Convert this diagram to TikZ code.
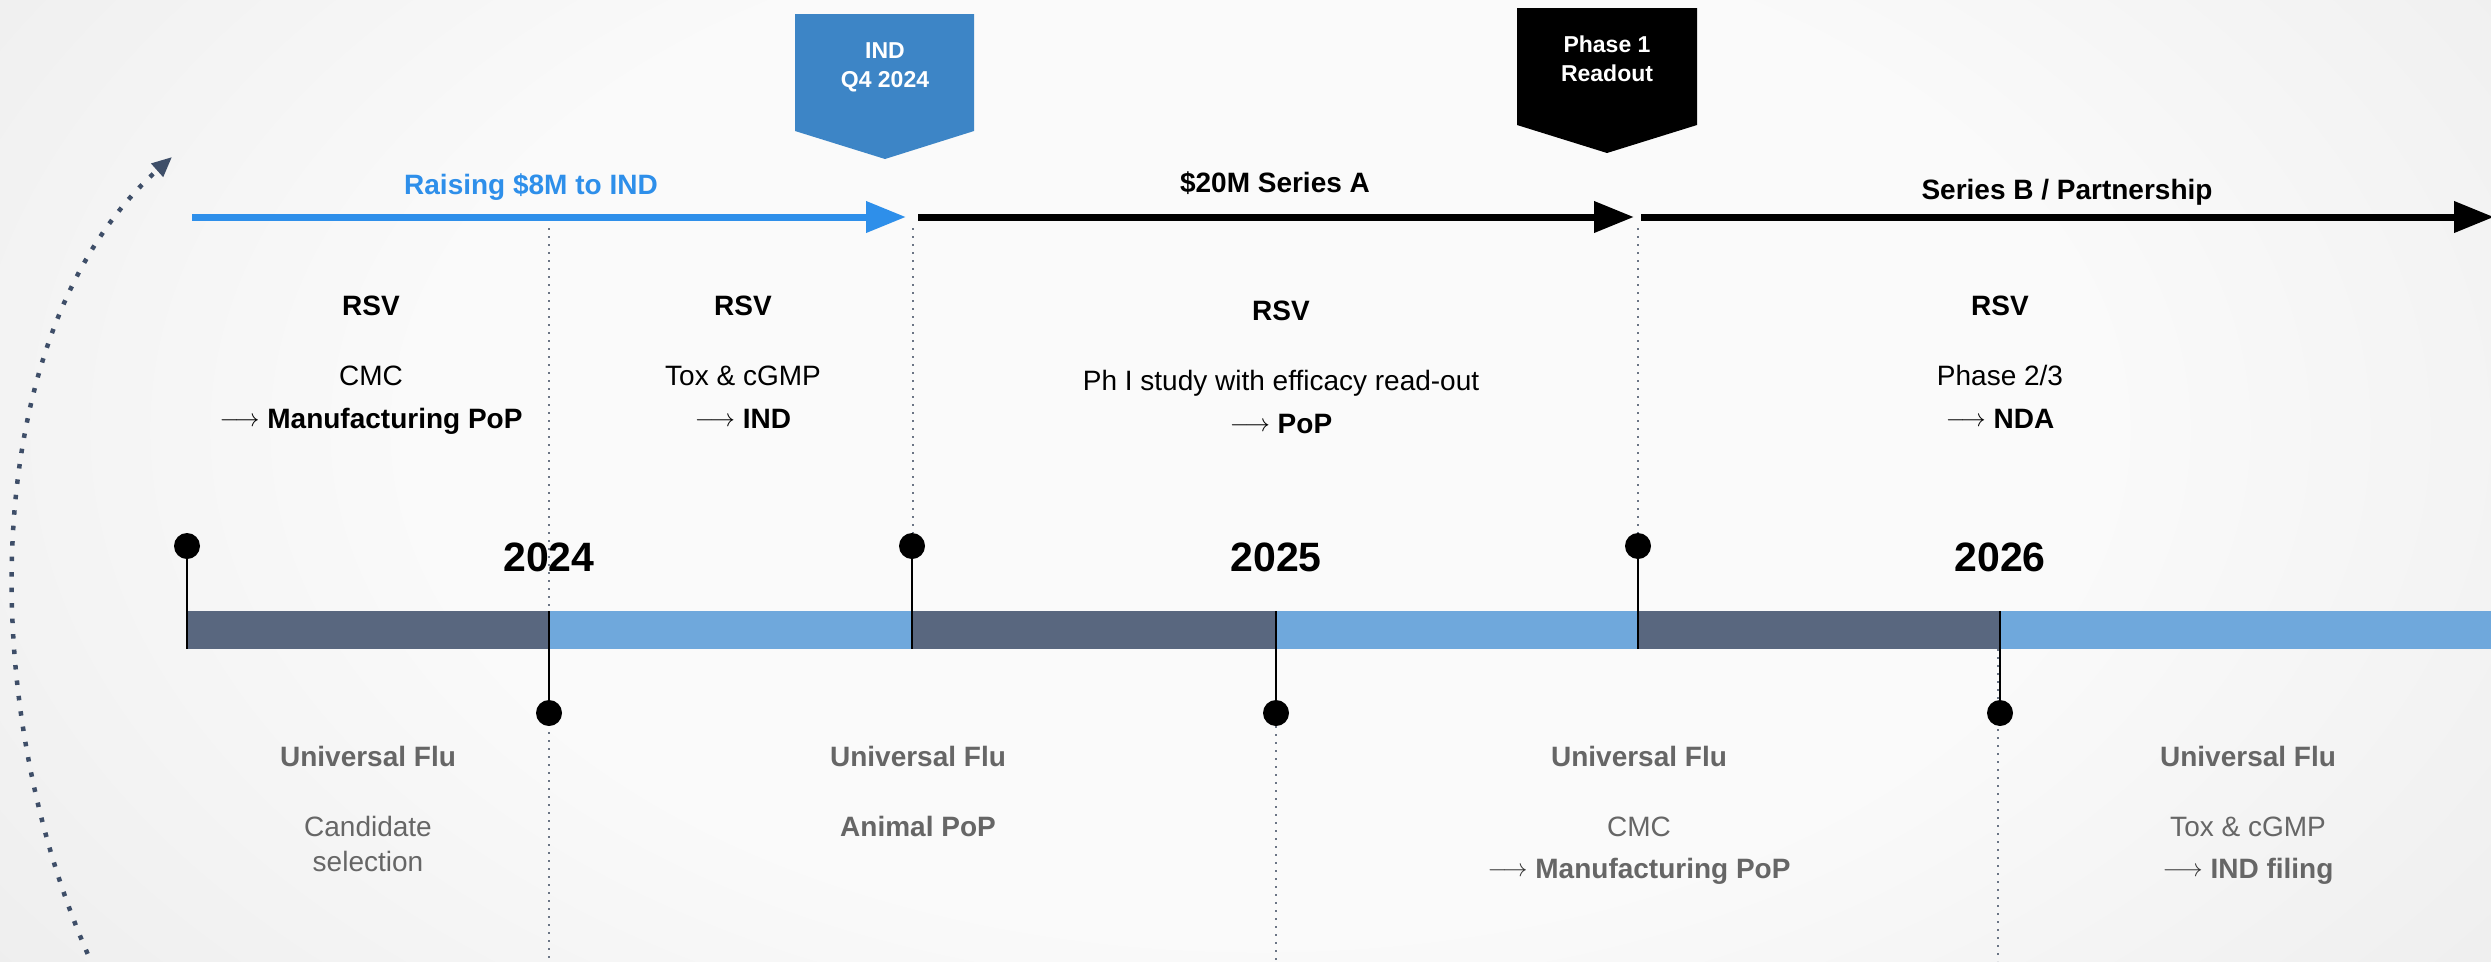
\documentclass[tikz,border=0pt]{standalone}
\usepackage{fontspec}
\setmainfont{Liberation Sans}
\usetikzlibrary{arrows.meta}
\definecolor{bgin}{HTML}{FAFAFA}
\definecolor{bgout}{HTML}{D6D6D6}
\definecolor{barDark}{HTML}{59677F}
\definecolor{barLight}{HTML}{6FA8DC}
\definecolor{raiseBlue}{HTML}{2E8FEA}
\definecolor{calloutBlue}{HTML}{3D85C6}
\definecolor{fluGray}{HTML}{666666}
\definecolor{arrDark}{HTML}{333333}
\definecolor{slate}{HTML}{3E4E68}
\definecolor{dotGray}{HTML}{6B7585}
\pgfdeclareradialshading{bgshade}{\pgfpoint{0bp}{0bp}}{color(0bp)=(bgin); color(14bp)=(bgin); color(50bp)=(bgout)}
\newcommand{\myarr}{\raisebox{2pt}{\fontsize{25}{25}\selectfont$\longrightarrow$}}
\begin{document}
\begin{tikzpicture}[x=1pt,y=-1pt,
  lbl/.style={font=\fontsize{28}{34}\selectfont, anchor=base, inner sep=0pt},
  lblb/.style={lbl, font=\fontsize{28}{34}\selectfont\bfseries},
  flu/.style={lbl, text=fluGray},
  flub/.style={lblb, text=fluGray},
  year/.style={font=\fontsize{41}{48}\selectfont\bfseries, anchor=base, inner sep=0pt},
  callt/.style={font=\fontsize{23}{28}\selectfont\bfseries, text=white, anchor=base, inner sep=0pt},
  pindot/.style={circle, fill=black, minimum size=26pt, inner sep=0pt},
  stem/.style={line width=2pt},
  vdots/.style={draw=dotGray, line width=1.8pt, dash pattern=on 2pt off 6pt},
  fund/.style={line width=7pt, -{Triangle[length=40pt,width=30pt]}},
]
\useasboundingbox (0,0) rectangle (2491,961);
\clip (0,0) rectangle (2491,961);
\shade[shading=bgshade] (-240,-470) rectangle (2760,1330);

% bar
\fill[barDark]  (187,611) rectangle (549,649);
\fill[barLight] (549,611) rectangle (912,649);
\fill[barDark]  (912,611) rectangle (1276,649);
\fill[barLight] (1276,611) rectangle (1638,649);
\fill[barDark]  (1638,611) rectangle (2000,649);
\fill[barLight] (2000,611) rectangle (2491,649);

% dotted guides
\coordinate (d1a) at (549,228);  \coordinate (d1b) at (549,961);
\coordinate (d2a) at (913,228);  \coordinate (d2b) at (913,533);
\coordinate (d3a) at (1276,726); \coordinate (d3b) at (1276,961);
\coordinate (d4a) at (1638,228); \coordinate (d4b) at (1638,533);
\coordinate (d5a) at (1998,649); \coordinate (d5b) at (1998,961);
\draw[vdots] (d1a) -- (d1b);
\draw[vdots] (d2a) -- (d2b);
\draw[vdots] (d3a) -- (d3b);
\draw[vdots] (d4a) -- (d4b);
\draw[vdots] (d5a) -- (d5b);

% pins above
\node[pindot] (pa1) at (187,546) {};
\node[pindot] (pa2) at (912,546) {};
\node[pindot] (pa3) at (1638,546) {};
\coordinate (pa1e) at (187,649);
\coordinate (pa2e) at (912,649);
\coordinate (pa3e) at (1638,649);
\draw[stem] (pa1) -- (pa1e);
\draw[stem] (pa2) -- (pa2e);
\draw[stem] (pa3) -- (pa3e);
% pins below
\node[pindot] (pb1) at (549,713) {};
\node[pindot] (pb2) at (1276,713) {};
\node[pindot] (pb3) at (2000,713) {};
\coordinate (pb1s) at (549,611);
\coordinate (pb2s) at (1276,611);
\coordinate (pb3s) at (2000,611);
\draw[stem] (pb1s) -- (pb1);
\draw[stem] (pb2s) -- (pb2);
\draw[stem] (pb3s) -- (pb3);

% callouts
\fill[calloutBlue] (795,14) -- (974,14) -- (974,131) -- (885,159) -- (795,131) -- cycle;
\fill[black] (1517,8) -- (1697,8) -- (1697,125) -- (1607,153) -- (1517,125) -- cycle;
\node[callt] (c1a) at (885,58) {IND};
\node[callt] (c1b) at (885,87) {Q4 2024};
\node[callt] (c2a) at (1607,52) {Phase 1};
\node[callt] (c2b) at (1607,81) {Readout};

% funding arrows
\coordinate (fa0) at (192,217);  \coordinate (fa1) at (906,217);
\coordinate (fb0) at (918,217);  \coordinate (fb1) at (1634,217);
\coordinate (fc0) at (1641,217); \coordinate (fc1) at (2494,217);
\draw[fund, draw=raiseBlue] (fa0) -- (fa1);
\draw[fund] (fb0) -- (fb1);
\draw[fund] (fc0) -- (fc1);
\node[lblb, text=raiseBlue] (lraise) at (531,194) {Raising \$8M to IND};
\node[lblb] (lseriesa) at (1275,192) {\$20M Series A};
\node[lblb] (lseriesb) at (2067,199) {Series B / Partnership};

% RSV blocks
\node[lblb] (r1t) at (371,315) {RSV};
\node[lbl] (r1a) at (371,385) {CMC};
\node[lbl] (r1b) at (371,428) {\myarr\ \textbf{Manufacturing PoP}};
\node[lblb] (r2t) at (743,315) {RSV};
\node[lbl] (r2a) at (743,385) {Tox \& cGMP};
\node[lbl] (r2b) at (743,428) {\myarr\ \textbf{IND}};
\node[lblb] (r3t) at (1281,320) {RSV};
\node[lbl] (r3a) at (1281,390) {Ph I study with efficacy read-out};
\node[lbl] (r3b) at (1281,433) {\myarr\ \textbf{PoP}};
\node[lblb] (r4t) at (2000,315) {RSV};
\node[lbl] (r4a) at (2000,385) {Phase 2/3};
\node[lbl] (r4b) at (2000,428) {\myarr\ \textbf{NDA}};

% years
\node[year] (y24) at (549,571) {2024};
\node[year] (y25) at (1276,571) {2025};
\node[year] (y26) at (2000,571) {2026};

% Universal Flu blocks
\node[flub] (u1t) at (368,766) {Universal Flu};
\node[flu] (u1a) at (368,836) {Candidate};
\node[flu] (u1b) at (368,871) {selection};
\node[flub] (u2t) at (918,766) {Universal Flu};
\node[flub] (u2a) at (918,836) {Animal PoP};
\node[flub] (u3t) at (1639,766) {Universal Flu};
\node[flu] (u3a) at (1639,836) {CMC};
\node[flu] (u3b) at (1639,878) {{\color{arrDark}\myarr}\ \textbf{Manufacturing PoP}};
\node[flub] (u4t) at (2248,766) {Universal Flu};
\node[flu] (u4a) at (2248,836) {Tox \& cGMP};
\node[flu] (u4b) at (2248,878) {{\color{arrDark}\myarr}\ \textbf{IND filing}};

% curved dotted arrow
\coordinate (cv0) at (94,968);
\coordinate (cv1) at (172,157);
\draw[draw=slate, line width=4.5pt, dash pattern=on 4.5pt off 11pt, -{Triangle[length=20pt,width=17pt]}]
  (cv0) .. controls (-27,705) and (-22,330) .. (cv1);
\end{tikzpicture}
\end{document}
